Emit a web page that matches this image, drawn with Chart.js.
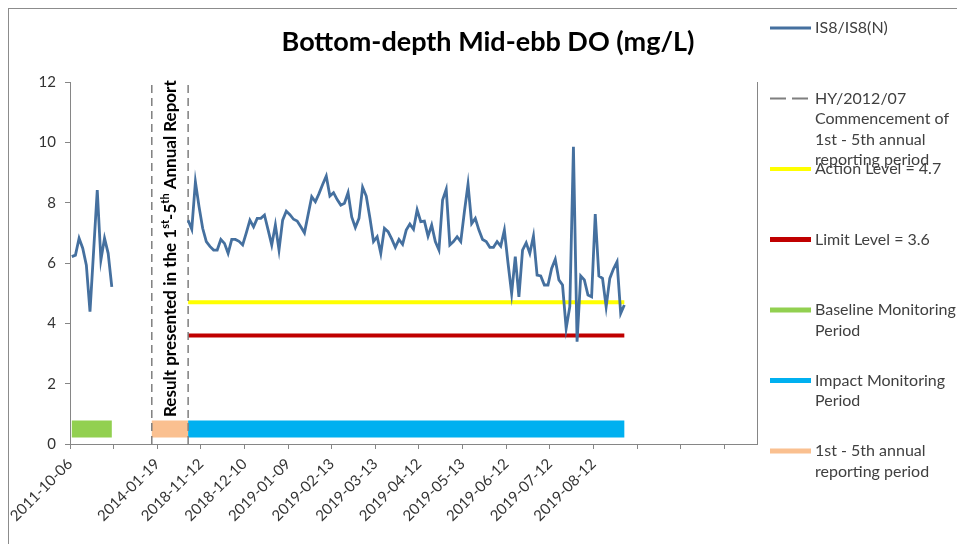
<!DOCTYPE html>
<html>
<head>
<meta charset="utf-8">
<title>Bottom-depth Mid-ebb DO</title>
<script src="https://cdn.jsdelivr.net/npm/chart.js@4.4.1/dist/chart.umd.min.js"></script>
<style>
  html, body { margin: 0; padding: 0; background: #fff; }
  #wrap { width: 957px; height: 544px; }
</style>
</head>
<body>
<div id="wrap"><canvas id="chart" width="957" height="544"></canvas></div>
<script>
// ---- data ----
const categoryCount = 189;      // category slots on the x axis
const tickEvery = 12;           // tick mark / label interval (categories)
const tickLabels = ['2011-10-06', '', '2014-01-19', '2018-11-12', '2018-12-10', '2019-01-09',
  '2019-02-13', '2019-03-13', '2019-04-12', '2019-05-13', '2019-06-12', '2019-07-12',
  '2019-08-12', '', '', ''];

const baselineStart = 0;
const baselineDO = [6.21, 6.26, 6.82, 6.49, 5.93, 4.39, 6.4, 8.42, 6.1, 6.82, 6.32, 5.21];

const impactStart = 32;
const impactDO = [
  7.42, 7.12, 8.69, 7.87, 7.15, 6.71, 6.55, 6.43, 6.43, 6.78,
  6.65, 6.32, 6.78, 6.78, 6.72, 6.6, 7.0, 7.42, 7.2, 7.48,
  7.48, 7.59, 7.1, 6.6, 7.26, 6.43, 7.42, 7.72, 7.6, 7.45,
  7.39, 7.2, 7.0, 7.6, 8.2, 8.03, 8.3, 8.6, 8.88, 8.22,
  8.33, 8.1, 7.92, 7.98, 8.33, 7.53, 7.18, 7.48, 8.51, 8.22,
  7.5, 6.71, 6.87, 6.32, 7.15, 7.04, 6.8, 6.52, 6.78, 6.62,
  7.09, 7.29, 7.12, 7.76, 7.37, 7.39, 6.89, 7.26, 6.71, 6.43,
  8.09, 8.44, 6.6, 6.71, 6.87, 6.71, 7.7, 8.61, 7.31, 7.48,
  7.09, 6.78, 6.71, 6.52, 6.52, 6.71, 6.56, 7.09, 6.0, 4.99,
  6.21, 4.88, 6.43, 6.67, 6.32, 6.89, 5.6, 5.57, 5.27, 5.27,
  5.82, 6.12, 5.44, 5.27, 3.83, 4.55, 9.85, 3.39, 5.57, 5.44,
  4.94, 4.88, 7.62, 5.57, 5.49, 4.55, 5.49, 5.8, 6.04, 4.33,
  4.61
];

const actionLevel = 4.7;
const limitLevel = 3.6;

// periods as [first category, last category]
const baselinePeriod = [0, 11];
const reportingPeriod = [22, 32];
const impactPeriod = [32, 152];
const commencementMarks = [22, 32];

const yMin = 0, yMax = 12, yStep = 2, periodBarLevel = 0.5;

// ---- helpers ----
const FONT = 'Lato, "Open Sans", sans-serif';
const TEXT = '#404040';
const AXIS = '#868686';

// category k is drawn at the middle of its slot
const cx = (k) => k + 0.5;
const seriesPoints = (start, values) => values.map((v, i) => ({ x: cx(start + i), y: v }));
const spanPoints = (range, y) => [{ x: cx(range[0]), y: y }, { x: cx(range[1]), y: y }];

const markerPoints = [];
commencementMarks.forEach((k, i) => {
  if (i > 0) markerPoints.push({ x: cx(k) - 0.5, y: null });
  markerPoints.push({ x: cx(k), y: yMin }, { x: cx(k), y: yMax });
});

// ---- datasets (legend order) ----
const datasets = [
  { label: 'IS8/IS8(N)', data: seriesPoints(impactStart, impactDO), borderColor: '#45709f',
    borderWidth: 2.8, legendWidth: 3, inLegend: true },
  { label: 'IS8/IS8(N)', data: seriesPoints(baselineStart, baselineDO), borderColor: '#45709f',
    borderWidth: 2.8, inLegend: false },
  { label: 'HY/2012/07\nCommencement of\n1st - 5th annual\nreporting period', data: markerPoints,
    borderColor: '#7f7f7f', borderWidth: 1.5, borderDash: [8, 5], legendDash: [16, 6],
    legendWidth: 2, spanGaps: false, inLegend: true },
  { label: 'Action Level = 4.7', data: spanPoints(impactPeriod, actionLevel), borderColor: '#ffff00',
    borderWidth: 4, legendWidth: 4, inLegend: true },
  { label: 'Limit Level = 3.6', data: spanPoints(impactPeriod, limitLevel), borderColor: '#c00000',
    borderWidth: 4, legendWidth: 5, inLegend: true },
  { label: 'Baseline Monitoring\nPeriod', data: spanPoints(baselinePeriod, periodBarLevel),
    borderColor: '#92d050', borderWidth: 17, legendWidth: 5, inLegend: true },
  { label: 'Impact Monitoring\nPeriod', data: spanPoints(impactPeriod, periodBarLevel),
    borderColor: '#00b0f0', borderWidth: 17, legendWidth: 5, inLegend: true },
  { label: '1st - 5th annual\nreporting period', data: spanPoints(reportingPeriod, periodBarLevel),
    borderColor: '#fac090', borderWidth: 17, legendWidth: 5, inLegend: true }
];
datasets.forEach(ds => {
  ds.pointRadius = 0;
  ds.pointHoverRadius = 0;
  ds.tension = 0;
  ds.fill = false;
  ds.borderCapStyle = 'butt';
});
// DO line on top of levels and period bars
datasets.forEach((ds, i) => { ds.order = i < 2 ? -10 : 0; });

// ---- decorations: frame, title, vertical note, legend ----
const decor = {
  id: 'decor',
  beforeDraw(chart) {
    const ctx = chart.ctx;
    ctx.save();
    ctx.fillStyle = '#fff';
    ctx.fillRect(0, 0, chart.width, chart.height);
    ctx.strokeStyle = '#8c8c8c';
    ctx.lineWidth = 1;
    ctx.strokeRect(8.5, 8.5, chart.width + 20, chart.height + 20);
    ctx.restore();
  },
  afterDraw(chart) {
    const ctx = chart.ctx;
    const xs = chart.scales.x;
    const area = chart.chartArea;
    ctx.save();

    // title
    ctx.fillStyle = '#000';
    ctx.font = 'bold 27px ' + FONT;
    ctx.textAlign = 'center';
    ctx.textBaseline = 'middle';
    ctx.fillText('Bottom-depth Mid-ebb DO (mg/L)', 488, 42);

    // vertical note between the dashed markers
    const midX = (xs.getPixelForValue(cx(reportingPeriod[0])) + xs.getPixelForValue(cx(reportingPeriod[1]))) / 2;
    const parts = [['Result presented in the 1', false], ['st', true], ['-5', false], ['th', true], [' Annual Report', false]];
    ctx.translate(midX + 6, area.bottom - 27);
    ctx.rotate(-Math.PI / 2);
    ctx.textAlign = 'left';
    ctx.textBaseline = 'alphabetic';
    let px = 0;
    parts.forEach(([txt, sup]) => {
      ctx.font = (sup ? 'bold 11px ' : 'bold 17px ') + FONT;
      ctx.fillText(txt, px, sup ? -7 : 0);
      px += ctx.measureText(txt).width;
    });
    ctx.setTransform(1, 0, 0, 1, 0, 0);

    // legend
    const items = chart.data.datasets.filter(ds => ds.inLegend);
    const x0 = 770, x1 = 811, tx = 815;
    ctx.font = '16px ' + FONT;
    ctx.textAlign = 'left';
    ctx.textBaseline = 'middle';
    items.forEach((ds, i) => {
      const y = 28 + i * 70.5;
      ctx.strokeStyle = ds.borderColor;
      ctx.lineWidth = ds.legendWidth;
      ctx.setLineDash(ds.legendDash || []);
      ctx.beginPath();
      ctx.moveTo(x0, y);
      ctx.lineTo(x1, y);
      ctx.stroke();
      ctx.setLineDash([]);
      ctx.fillStyle = TEXT;
      ds.label.split('\n').forEach((line, j) => ctx.fillText(line, tx, y + j * 20.5));
    });
    ctx.restore();
  }
};

new Chart(document.getElementById('chart'), {
  type: 'line',
  data: { datasets: datasets },
  options: {
    responsive: false,
    animation: false,
    layout: { padding: { top: 82, right: 200, left: 0, bottom: 0 } },
    plugins: {
      legend: { display: false },
      title: { display: false },
      tooltip: { enabled: false }
    },
    scales: {
      x: {
        type: 'linear',
        min: 0,
        max: categoryCount,
        afterBuildTicks: (scale) => {
          scale.ticks = tickLabels.map((t, i) => ({ value: i * tickEvery }));
        },
        ticks: {
          autoSkip: false,
          minRotation: 45,
          maxRotation: 45,
          padding: 6,
          color: '#333',
          font: { family: FONT, size: 15 },
          callback: (value) => tickLabels[Math.round(value / tickEvery)] || ''
        },
        grid: { drawOnChartArea: false, tickLength: 5, color: AXIS },
        border: { color: AXIS },
        afterFit: (scale) => { scale.height = 100; }
      },
      y: {
        min: yMin,
        max: yMax,
        ticks: { stepSize: yStep, padding: 9, color: '#333', font: { family: FONT, size: 15 } },
        grid: { drawOnChartArea: false, tickLength: 5, color: AXIS },
        border: { color: AXIS },
        afterFit: (scale) => { scale.width = 70; }
      },
      y2: {
        position: 'right',
        min: yMin,
        max: yMax,
        ticks: { display: false },
        grid: { display: false },
        border: { color: AXIS },
        afterFit: (scale) => { scale.width = 0; }
      }
    }
  },
  plugins: [decor]
});
</script>
</body>
</html>
